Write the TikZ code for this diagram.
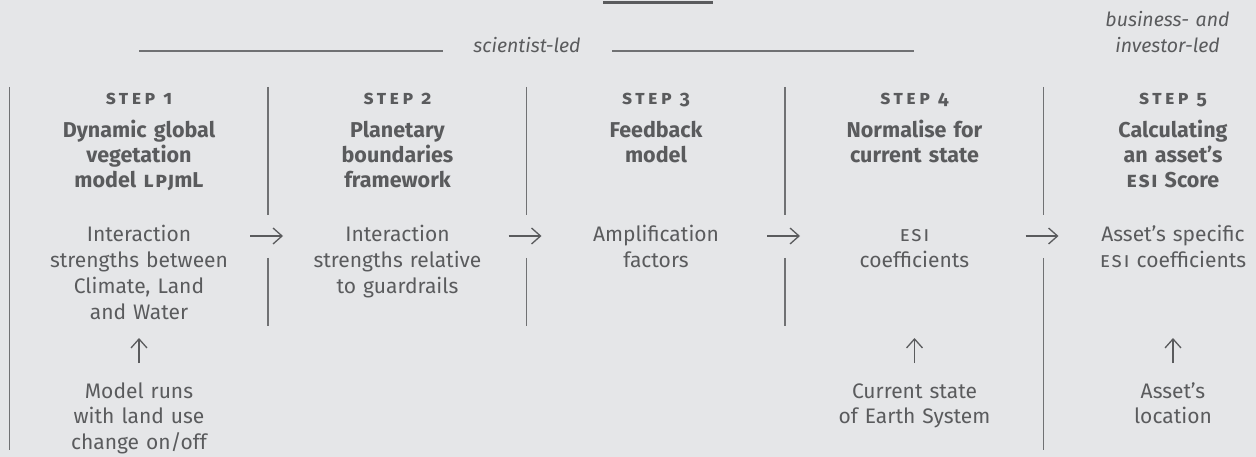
\documentclass[tikz,border=0pt]{standalone}
\usepackage{fontspec}
\setmainfont{Fira Sans}[Numbers=OldStyle]
\usetikzlibrary{arrows.meta}
\definecolor{bg}{HTML}{E5E6E8}
\definecolor{ink}{HTML}{5A5B5D}
\definecolor{rulec}{HTML}{707173}
\newcommand{\steplbl}[1]{{\addfontfeatures{Letters=SmallCaps,LetterSpace=18}#1}}
\newcommand{\smc}[1]{{\addfontfeatures{Letters=SmallCaps,LetterSpace=8}#1}}
\tikzset{
  bodytxt/.style={text width=250pt, align=center, inner sep=0pt, anchor=base, text=ink, font=\fontsize{21}{25.7}\selectfont},
  headtxt/.style={text width=250pt, align=center, inner sep=0pt, anchor=base, text=ink, font=\fontsize{21.5}{25}\selectfont\bfseries},
  steptxt/.style={inner sep=0pt, anchor=base, text=ink, font=\fontsize{19.5}{19.5}\selectfont\bfseries},
  leadtxt/.style={text width=200pt, align=center, inner sep=0pt, anchor=base, text=ink, font=\fontsize{19.5}{26}\selectfont\itshape},
  divider/.style={draw=rulec, line width=1.2pt},
  leadline/.style={draw=rulec, line width=1.5pt},
  flow/.style={draw=ink, line width=1.3pt, -{Straight Barb[length=9pt,width=16pt]}}
}
\begin{document}
\begin{tikzpicture}[x=1pt,y=-1pt]
\useasboundingbox[fill=bg] (0,0) rectangle (1256,457);
% top bar
\coordinate (tb1) at (603,2.8);
\coordinate (tb2) at (713,2.8);
\draw[draw=ink, line width=2.8pt] (tb1) -- (tb2);
% scientist-led
\node[leadtxt] (sci) at (527,53) {scientist-led};
\coordinate (sl1) at (139,51);
\coordinate (sl2) at (443,51);
\coordinate (sr1) at (612,51);
\coordinate (sr2) at (914,51);
\draw[leadline] (sl1) -- (sl2);
\draw[leadline] (sr1) -- (sr2);
\node[leadtxt] (bus) at (1167.5,27) {business- and\\investor-led};
% dividers
\coordinate (d1t) at (9.5,87);  \coordinate (d1b) at (9.5,450);
\draw[divider] (d1t) -- (d1b);
\foreach \i/\x in {2/268,3/526.5,4/785}{
  \coordinate (d\i t) at (\x,87); \coordinate (d\i m) at (\x,215);
  \coordinate (d\i n) at (\x,258); \coordinate (d\i b) at (\x,326);
  \draw[divider] (d\i t) -- (d\i m);
  \draw[divider] (d\i n) -- (d\i b);
}
\coordinate (d5t) at (1043.5,87); \coordinate (d5m) at (1043.5,215);
\coordinate (d5n) at (1043.5,258); \coordinate (d5b) at (1043.5,450);
\draw[divider] (d5t) -- (d5m);
\draw[divider] (d5n) -- (d5b);
% steps
\node[steptxt] (s1) at (139,105) {\steplbl{step 1}};
\node[steptxt] (s2) at (397.5,105) {\steplbl{step 2}};
\node[steptxt] (s3) at (656,105) {\steplbl{step 3}};
\node[steptxt] (s4) at (914.5,105) {\steplbl{step 4}};
\node[steptxt] (s5) at (1173,105) {\steplbl{step 5}};
% headings
\node[headtxt] (h1) at (139,138) {Dynamic global\\vegetation\\model \smc{lpj}mL};
\node[headtxt] (h2) at (397.5,138) {Planetary\\boundaries\\framework};
\node[headtxt] (h3) at (656,138) {Feedback\\model};
\node[headtxt] (h4) at (914.5,138) {Normalise for\\current state};
\node[headtxt] (h5) at (1173,138) {Calculating\\an asset’s\\\smc{esi} Score};
% outputs
\node[bodytxt] (o1) at (139,242) {Interaction\\strengths between\\Climate, Land\\and Water};
\node[bodytxt] (o2) at (397.5,242) {Interaction\\strengths relative\\to guardrails};
\node[bodytxt] (o3) at (656,242) {Amplification\\factors};
\node[bodytxt] (o4) at (914.5,242) {\smc{esi}\\coefficients};
\node[bodytxt] (o5) at (1173,242) {Asset’s specific\\\smc{esi} coefficients};
% inputs
\node[bodytxt] (i1) at (139,398) {Model runs\\with land use\\change on/off};
\node[bodytxt] (i4) at (914.5,398) {Current state\\of Earth System};
\node[bodytxt] (i5) at (1173,398) {Asset’s\\location};
% horizontal arrows
\foreach \i/\x in {1/268,2/526.5,3/785,4/1043.5}{
  \coordinate (a\i s) at (\x-18,236);
  \coordinate (a\i e) at (\x+15,236);
  \draw[flow] (a\i s) -- (a\i e);
}
% up arrows
\foreach \i/\x in {1/139,4/914.5,5/1173}{
  \coordinate (u\i s) at (\x,363);
  \coordinate (u\i e) at (\x,338);
  \draw[flow] (u\i s) -- (u\i e);
}
\end{tikzpicture}
\end{document}
